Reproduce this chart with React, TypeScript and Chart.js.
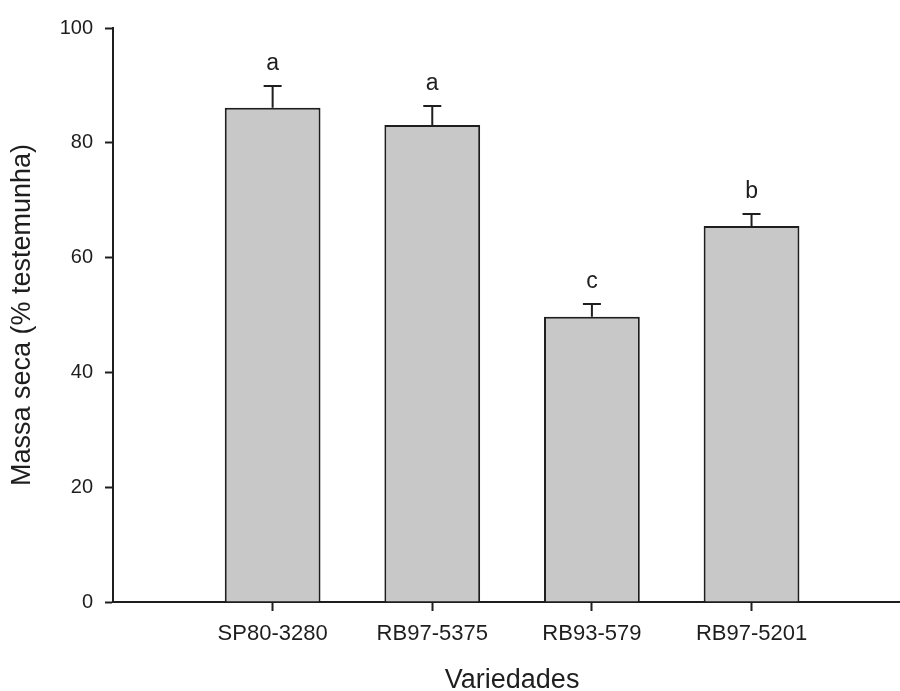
import React, { useEffect, useRef } from "react";
import { Chart, registerables } from "chart.js";

Chart.register(...registerables);

// ---- data ----
const categories = ["SP80-3280", "RB97-5375", "RB93-579", "RB97-5201"];
const xPositions = [1, 2, 3, 4];
const means = [86.1, 83.1, 49.7, 65.5];
const errors = [3.8, 3.3, 2.2, 2.1];
const letters = ["a", "a", "c", "b"];
const yTickStep = 20;
const yMin = 0;
const yMax = 100;
const xMin = 0;
const xMax = 4.93;
const xTitle = "Variedades";
const yTitle = "Massa seca (% testemunha)";

// ---- style ----
const FONT = "'Liberation Sans', Arial, Helvetica, sans-serif";
const INK = "#1e1e1e";
const BAR_FILL = "#c8c8c8";
const CAP_HALF = 9;

const overlayPlugin = {
  id: "overlay",
  afterDatasetsDraw(chart: any) {
    const ctx = chart.ctx;
    const meta = chart.getDatasetMeta(0);
    const y = chart.scales.y;
    ctx.save();
    ctx.strokeStyle = INK;
    ctx.lineWidth = 2;
    meta.data.forEach((el: any, i: number) => {
      const top = y.getPixelForValue(means[i] + errors[i]);
      ctx.beginPath();
      ctx.moveTo(el.x, el.y);
      ctx.lineTo(el.x, top);
      ctx.moveTo(el.x - CAP_HALF, top);
      ctx.lineTo(el.x + CAP_HALF, top);
      ctx.stroke();
      ctx.fillStyle = INK;
      ctx.font = `23px ${FONT}`;
      ctx.textAlign = "center";
      ctx.textBaseline = "alphabetic";
      ctx.fillText(letters[i], el.x, top - 16);
    });
    ctx.restore();
  },
  afterDraw(chart: any) {
    const ctx = chart.ctx;
    const x = chart.scales.x;
    const y = chart.scales.y;
    ctx.save();
    ctx.fillStyle = INK;
    ctx.font = `27px ${FONT}`;
    ctx.textAlign = "center";
    ctx.textBaseline = "middle";
    const cx = (x.getPixelForValue(xPositions[0]) + x.getPixelForValue(xPositions[xPositions.length - 1])) / 2;
    ctx.fillText(xTitle, cx, 681);
    ctx.translate(23, y.getPixelForValue((yMin + yMax) / 2));
    ctx.rotate(-Math.PI / 2);
    ctx.fillText(yTitle, 0, 0);
    ctx.restore();
  },
};

export default function App() {
  const ref = useRef<HTMLCanvasElement | null>(null);

  useEffect(() => {
    if (!ref.current) return;
    const chart = new Chart(ref.current, {
      type: "bar",
      data: {
        datasets: [
          {
            data: xPositions.map((p, i) => ({ x: p, y: means[i] })),
            backgroundColor: BAR_FILL,
            borderColor: INK,
            borderWidth: 2,
            barPercentage: 0.6,
            categoryPercentage: 1,
          },
        ],
      },
      options: {
        animation: false,
        responsive: true,
        maintainAspectRatio: false,
        layout: { padding: { top: 28, left: 0, right: 0, bottom: 0 } },
        plugins: {
          legend: { display: false },
          tooltip: { enabled: false },
        },
        scales: {
          x: {
            type: "linear",
            min: xMin,
            max: xMax,
            offset: false,
            z: 1,
            afterBuildTicks: (s: any) => {
              s.ticks = xPositions.map((v) => ({ value: v }));
            },
            afterFit: (s: any) => {
              s.height = 89;
            },
            ticks: {
              autoSkip: false,
              maxRotation: 0,
              padding: 10,
              color: INK,
              font: { family: FONT, size: 22 },
              callback: (v: any) => categories[xPositions.indexOf(Number(v))] ?? "",
            },
            grid: {
              offset: false,
              drawOnChartArea: false,
              tickLength: 9,
              tickWidth: 2,
              tickColor: INK,
            },
            border: { display: true, color: INK, width: 2 },
          },
          y: {
            min: yMin,
            max: yMax,
            z: 1,
            afterFit: (s: any) => {
              s.width = 113;
            },
            ticks: {
              stepSize: yTickStep,
              padding: 12,
              color: INK,
              font: { family: FONT, size: 20 },
            },
            grid: {
              drawOnChartArea: false,
              tickLength: 8,
              tickWidth: 2,
              tickColor: INK,
            },
            border: { display: true, color: INK, width: 2 },
          },
        },
      },
      plugins: [overlayPlugin],
    } as any);
    return () => chart.destroy();
  }, []);

  return (
    <div style={{ position: "absolute", left: 0, top: 0, width: 900, height: 691, background: "#fff" }}>
      <canvas ref={ref} />
    </div>
  );
}
